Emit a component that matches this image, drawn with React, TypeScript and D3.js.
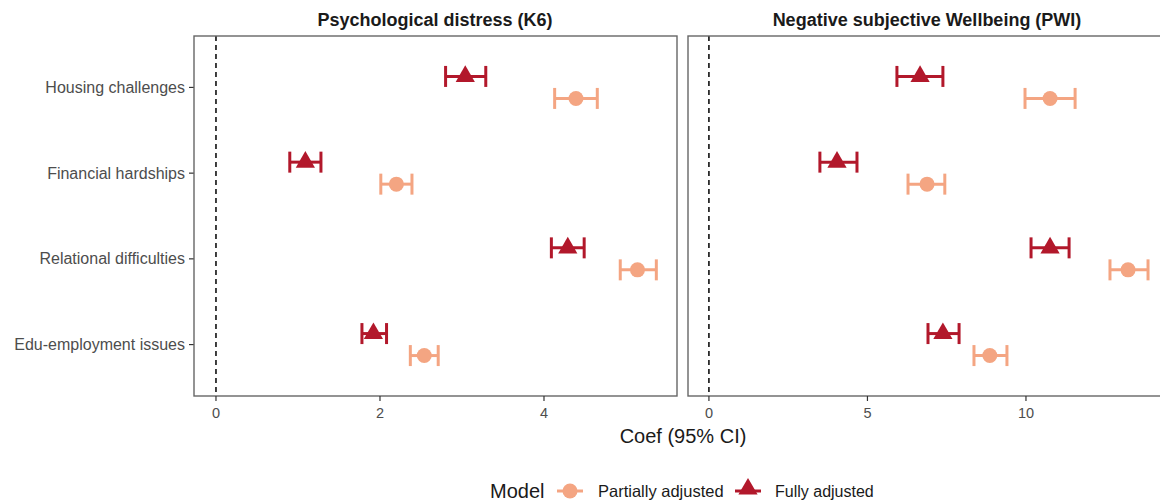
import React from "react";
import * as d3 from "d3";

const categories = ["Housing challenges", "Financial hardships", "Relational difficulties", "Edu-employment issues"];
const models = ["Partially adjusted", "Fully adjusted"];
const panels = ["Psychological distress (K6)", "Negative subjective Wellbeing (PWI)"];

// K6 estimates
const k6Partial = [4.39, 2.2, 5.14, 2.54];
const k6PartialLo = [4.13, 2.01, 4.93, 2.37];
const k6PartialHi = [4.65, 2.39, 5.37, 2.71];
const k6Full = [3.04, 1.09, 4.29, 1.92];
const k6FullLo = [2.8, 0.9, 4.09, 1.78];
const k6FullHi = [3.29, 1.28, 4.49, 2.08];

// PWI estimates
const pwiPartial = [10.76, 6.88, 13.22, 8.86];
const pwiPartialLo = [9.97, 6.28, 12.65, 8.36];
const pwiPartialHi = [11.55, 7.44, 13.85, 9.4];
const pwiFull = [6.66, 4.04, 10.76, 7.38];
const pwiFullLo = [5.93, 3.5, 10.16, 6.91];
const pwiFullHi = [7.38, 4.67, 11.36, 7.89];

const k6Ticks = [0, 2, 4];
const pwiTicks = [0, 5, 10];

const COLORS: Record<string, string> = {
  "Partially adjusted": "#F4A582",
  "Fully adjusted": "#B2182B",
};
const FONT = "'Liberation Sans', Arial, Helvetica, sans-serif";

type Row = { cat: string; model: string; est: number; lo: number; hi: number };

function buildRows(p: number[], pl: number[], ph: number[], f: number[], fl: number[], fh: number[]): Row[] {
  const rows: Row[] = [];
  categories.forEach((c, i) => {
    rows.push({ cat: c, model: models[0], est: p[i], lo: pl[i], hi: ph[i] });
    rows.push({ cat: c, model: models[1], est: f[i], lo: fl[i], hi: fh[i] });
  });
  return rows;
}

const k6Rows = buildRows(k6Partial, k6PartialLo, k6PartialHi, k6Full, k6FullLo, k6FullHi);
const pwiRows = buildRows(pwiPartial, pwiPartialLo, pwiPartialHi, pwiFull, pwiFullLo, pwiFullHi);

const TOP = 36;
const BOTTOM = 396;

const y = d3.scalePoint<string>().domain(categories).range([TOP, BOTTOM]).padding(0.6);
const dodge = d3.scaleBand<string>().domain(["Fully adjusted", "Partially adjusted"]).range([-22, 22]);

const triPath = d3.symbol().type(d3.symbolTriangle).size(160)() as string;

function Panel({ title, titleX, rows, x, ticks, clipId }: { title: string; titleX: number; rows: Row[]; x: d3.ScaleLinear<number, number>; ticks: number[]; clipId: string }) {
  const [x0, x1] = x.range();
  return (
    <g>
      <text x={titleX} y={26} textAnchor="middle" fontFamily={FONT} fontWeight="bold" fontSize={18} fill="#1a1a1a">
        {title}
      </text>
      <clipPath id={clipId}>
        <rect x={x0} y={TOP} width={x1 - x0} height={BOTTOM - TOP} />
      </clipPath>
      <line x1={x(0)} x2={x(0)} y1={TOP} y2={BOTTOM} stroke="#000" strokeWidth={1.5} strokeDasharray="5,4" />
      <g clipPath={`url(#${clipId})`}>
        {rows.map((r, i) => {
          const cy = (y(r.cat) as number) + (dodge(r.model) as number) + dodge.bandwidth() / 2;
          const col = COLORS[r.model];
          const capH = 10.5;
          return (
            <g key={i}>
              <line x1={x(r.lo)} x2={x(r.hi)} y1={cy} y2={cy} stroke={col} strokeWidth={3} />
              <line x1={x(r.lo)} x2={x(r.lo)} y1={cy - capH} y2={cy + capH} stroke={col} strokeWidth={3} />
              <line x1={x(r.hi)} x2={x(r.hi)} y1={cy - capH} y2={cy + capH} stroke={col} strokeWidth={3} />
              {r.model === "Fully adjusted" ? (
                <path d={triPath} transform={`translate(${x(r.est)},${cy})`} fill={col} />
              ) : (
                <circle cx={x(r.est)} cy={cy} r={7.5} fill={col} />
              )}
            </g>
          );
        })}
      </g>
      <rect x={x0} y={TOP} width={x1 - x0} height={BOTTOM - TOP} fill="none" stroke="#666" strokeWidth={1.4} />
      {ticks.map((t) => (
        <g key={t}>
          <line x1={x(t)} x2={x(t)} y1={BOTTOM} y2={BOTTOM + 5} stroke="#333" strokeWidth={1.2} />
          <text x={x(t)} y={BOTTOM + 22} textAnchor="middle" fontFamily={FONT} fontSize={14.5} fill="#4d4d4d">
            {t}
          </text>
        </g>
      ))}
    </g>
  );
}

export default function App() {
  const xK6 = d3.scaleLinear().domain([-0.268, 5.622]).range([194, 677]);
  const xPWI = d3.scaleLinear().domain([-0.66, 14.48]).range([688, 1168]);
  const triLegend = d3.symbol().type(d3.symbolTriangle).size(160)() as string;
  return (
    <svg width={1160} height={502} style={{ position: "absolute", left: 0, top: 0, background: "#fff" }}>
      <rect width={1160} height={502} fill="#fff" />
      {categories.map((c) => (
        <g key={c}>
          <text x={185} y={(y(c) as number) + 5.5} textAnchor="end" fontFamily={FONT} fontSize={16} fill="#4d4d4d">
            {c}
          </text>
          <line x1={189} x2={194} y1={y(c)} y2={y(c)} stroke="#333" strokeWidth={1.2} />
        </g>
      ))}
      <Panel title={panels[0]} titleX={435} rows={k6Rows} x={xK6} ticks={k6Ticks} clipId="c1" />
      <Panel title={panels[1]} titleX={927} rows={pwiRows} x={xPWI} ticks={pwiTicks} clipId="c2" />
      <text x={683} y={443} textAnchor="middle" fontFamily={FONT} fontSize={20} fill="#1a1a1a">
        Coef (95% CI)
      </text>
      <g>
        <text x={490} y={498} fontFamily={FONT} fontSize={20} fill="#1a1a1a">Model</text>
        <line x1={557} x2={583} y1={491} y2={491} stroke={COLORS["Partially adjusted"]} strokeWidth={3} />
        <circle cx={570} cy={491} r={7.5} fill={COLORS["Partially adjusted"]} />
        <text x={598} y={497} fontFamily={FONT} fontSize={16.5} fill="#1a1a1a">Partially adjusted</text>
        <line x1={735} x2={761} y1={491} y2={491} stroke={COLORS["Fully adjusted"]} strokeWidth={3} />
        <path d={triLegend} transform={`translate(748,489)`} fill={COLORS["Fully adjusted"]} />
        <text x={775} y={497} fontFamily={FONT} fontSize={16} fill="#1a1a1a">Fully adjusted</text>
      </g>
    </svg>
  );
}
